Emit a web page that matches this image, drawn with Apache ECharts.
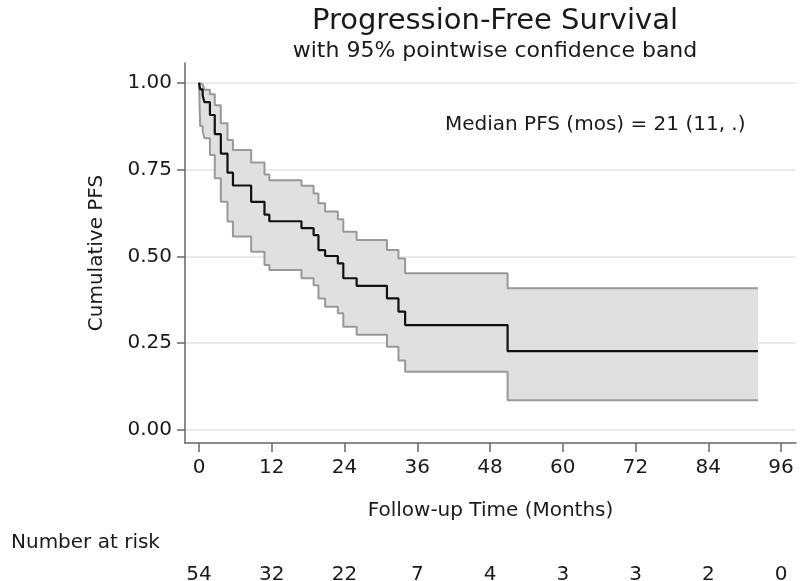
<!DOCTYPE html>
<html>
    <head>
        <meta charset="UTF-8">
        <title>Progression-Free Survival</title>
        <script type="text/javascript" src="https://cdn.jsdelivr.net/npm/echarts@6/dist/echarts.min.js"></script>
    </head>
    <body style="height: 100%; margin: 0; background: #fff;">
        <div id="container" style="width: 800px; height: 581px"></div>
    </body>
    <script type="text/javascript">
        var dom = document.getElementById("container");
        var myChart = echarts.init(dom, null, { renderer: 'canvas' });
        var option;

        // Kaplan-Meier steps (months)
        const times    = [0, 0.2, 0.6, 0.9, 1.8, 2.6, 3.6, 4.7, 5.6, 8.6, 10.8, 11.6, 16.9, 18.9, 19.7, 20.8, 22.9, 23.8, 26.0, 31.0, 32.9, 34.0, 50.9, 92.2];
        const survival = [1, .981, .963, .944, .907, .852, .796, .741, .704, .657, .620, .601, .581, .561, .518, .501, .480, .437, .415, .379, .341, .302, .227, .227];
        const upperCI  = [1, .995, .990, .980, .967, .935, .883, .835, .806, .770, .736, .719, .703, .681, .653, .629, .607, .571, .547, .518, .494, .451, .408, .408];
        const lowerCI  = [1, .875, .860, .840, .792, .725, .657, .600, .557, .513, .475, .461, .437, .417, .379, .355, .336, .297, .274, .240, .200, .168, .086, .086];

        const xTicks = [0, 12, 24, 36, 48, 60, 72, 84, 96];
        const yTicks = [0, 0.25, 0.5, 0.75, 1];
        const atRisk = [54, 32, 22, 7, 4, 3, 3, 2, 0];

        const font = 'DejaVu Sans';
        const txt = '#1a1a1a';
        const edge = '#999999';

        // band polygon: upper edge forward, lower edge back, both as steps
        function renderBand(params, api) {
            if (params.dataIndex !== 0) return;
            var pts = [];
            var n = times.length;
            for (var i = 0; i < n; i++) {
                if (i > 0) pts.push(api.coord([times[i], upperCI[i - 1]]));
                pts.push(api.coord([times[i], upperCI[i]]));
            }
            for (var j = n - 1; j >= 0; j--) {
                pts.push(api.coord([times[j], lowerCI[j]]));
                if (j > 0) pts.push(api.coord([times[j], lowerCI[j - 1]]));
            }
            return {
                type: 'polygon',
                shape: { points: pts },
                style: { fill: '#e0e0e0', stroke: null }
            };
        }

        function stepLine(vals) {
            return times.map(function (t, i) { return [t, vals[i]]; });
        }

        option = {
            animation: false,
            backgroundColor: '#fff',
            title: [
                {
                    text: 'Progression-Free Survival',
                    left: 490, top: 2, textAlign: 'center',
                    textStyle: { fontFamily: font, fontSize: 29, fontWeight: 'normal', color: txt }
                },
                {
                    text: 'with 95% pointwise confidence band',
                    left: 490, top: 35, textAlign: 'center',
                    textStyle: { fontFamily: font, fontSize: 22, fontWeight: 'normal', color: txt }
                },
                {
                    text: 'Median PFS (mos) = 21 (11, .)',
                    left: 440, top: 110,
                    textStyle: { fontFamily: font, fontSize: 20, fontWeight: 'normal', color: txt }
                },
                {
                    text: 'Number at risk',
                    left: 6, top: 528,
                    textStyle: { fontFamily: font, fontSize: 20, fontWeight: 'normal', color: txt }
                }
            ],
            grid: {
                left: 185,
                right: 4,
                top: 63,
                bottom: 138,
                containLabel: false,
                outerBoundsMode: 'none'
            },
            xAxis: [
                {
                    type: 'value',
                    min: -2.31,
                    max: 98.47,
                    name: 'Follow-up Time (Months)',
                    nameLocation: 'middle',
                    nameGap: 58,
                    nameTextStyle: { fontFamily: font, fontSize: 20, color: txt },
                    axisLine: { show: true, onZero: false, lineStyle: { color: '#666', width: 1.5 } },
                    axisTick: { show: true, length: 9, customValues: xTicks, lineStyle: { color: '#666', width: 1.5 } },
                    axisLabel: {
                        customValues: xTicks, margin: 15,
                        fontFamily: font, fontSize: 20, color: txt
                    },
                    splitLine: { show: false }
                },
                {
                    type: 'value',
                    min: -2.31,
                    max: 98.47,
                    position: 'bottom',
                    offset: 107,
                    axisLine: { show: false },
                    axisTick: { show: false, customValues: xTicks },
                    axisLabel: {
                        customValues: xTicks, margin: 15,
                        fontFamily: font, fontSize: 20, color: txt,
                        formatter: function (v) {
                            return String(atRisk[xTicks.indexOf(v)]);
                        }
                    },
                    splitLine: { show: false }
                }
            ],
            yAxis: {
                type: 'value',
                min: -0.0374,
                max: 1.0567,
                name: 'Cumulative PFS',
                nameLocation: 'middle',
                nameGap: 78,
                nameTextStyle: { fontFamily: font, fontSize: 20, color: txt },
                axisLine: { show: true, onZero: false, lineStyle: { color: '#666', width: 1.5 } },
                axisTick: { show: true, length: 8, customValues: yTicks, lineStyle: { color: '#666', width: 1.5 } },
                axisLabel: {
                    customValues: yTicks, margin: 13,
                    fontFamily: font, fontSize: 20, color: txt,
                    formatter: function (v) { return v.toFixed(2); }
                },
                splitLine: { show: true, lineStyle: { color: '#e4e4e4', width: 1.5 } }
            },
            series: [
                {
                    name: 'Band',
                    type: 'custom',
                    silent: true,
                    z: 1,
                    renderItem: renderBand,
                    data: stepLine(upperCI)
                },
                {
                    name: 'Upper',
                    type: 'line',
                    step: 'end',
                    symbol: 'none',
                    silent: true,
                    z: 3,
                    lineStyle: { color: edge, width: 2 },
                    data: stepLine(upperCI)
                },
                {
                    name: 'Lower',
                    type: 'line',
                    step: 'end',
                    symbol: 'none',
                    silent: true,
                    z: 3,
                    lineStyle: { color: edge, width: 2 },
                    data: stepLine(lowerCI)
                },
                {
                    name: 'PFS',
                    type: 'line',
                    step: 'end',
                    symbol: 'none',
                    z: 4,
                    lineStyle: { color: '#111', width: 2.2 },
                    data: stepLine(survival)
                }
            ]
        };

        if (option && typeof option === 'object') {
            myChart.setOption(option);
        }
    </script>
</html>
